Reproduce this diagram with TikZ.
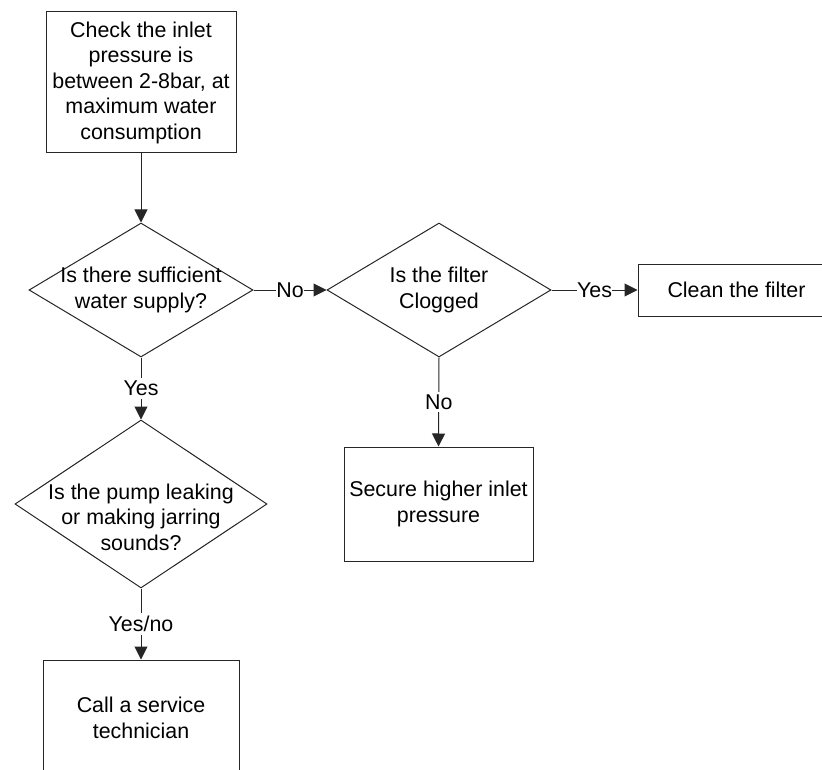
\documentclass[tikz,border=0pt]{standalone}
\usepackage{fontspec}
\setmainfont{Liberation Sans}
\usetikzlibrary{shapes.geometric,arrows.meta}
\begin{document}
\begin{tikzpicture}[x=1pt,y=-1pt,
  box/.style={draw=black!85, line width=1pt, inner sep=0pt, align=center,
    font=\fontsize{21.4}{25.5}\selectfont},
  dia/.style={diamond, draw=black!85, line width=1pt, inner sep=0pt},
  txt/.style={align=center, font=\fontsize{21.4}{25.5}\selectfont, inner sep=0pt},
  conn/.style={draw=black!85, line width=1pt, -{Triangle[length=13pt,width=13pt]}},
  lbl/.style={fill=white, font=\fontsize{21.4}{25.5}\selectfont, inner xsep=0.5pt, inner ysep=3pt}]
\useasboundingbox (0,0) rectangle (822,770);
\clip (0,0) rectangle (822,770);

% process boxes
\node[box, minimum width=190pt, minimum height=141pt] (check) at (141,82.5)
  {Check the inlet\\pressure is\\between 2-8bar, at\\maximum water\\consumption};
\node[box, minimum width=197pt, minimum height=52pt] (clean) at (736.5,290)
  {Clean the filter};
\node[box, minimum width=189pt, minimum height=114pt] (secure) at (438.5,504)
  {Secure higher inlet\\pressure};
\node[box, minimum width=196pt, minimum height=116pt] (call) at (141,718)
  {Call a service\\technician};

% decisions
\node[dia, minimum width=224pt, minimum height=134pt] (supply) at (141,290) {};
\node[txt] (supplyt) at (supply) {Is there sufficient\\water supply?};
\node[dia, minimum width=224pt, minimum height=134pt] (filter) at (439,290) {};
\node[txt] (filtert) at (filter) {Is the filter\\Clogged};
\node[dia, minimum width=252pt, minimum height=168pt] (pump) at (141,504) {};
\node[txt] (pumpt) at (141,517) {Is the pump leaking\\or making jarring\\sounds?};

% connectors
\draw[conn] (check.south) -- (supply.north);
\draw[conn] (supply.east) -- node[lbl]{No} (filter.west);
\draw[conn] (filter.east) -- node[lbl]{Yes} (clean.west);
\draw[conn] (supply.south) -- node[lbl]{Yes} (pump.north);
\draw[conn] (filter.south) -- node[lbl]{No} (secure.north);
\draw[conn] (pump.south) -- node[lbl]{Yes/no} (call.north);
\end{tikzpicture}
\end{document}
